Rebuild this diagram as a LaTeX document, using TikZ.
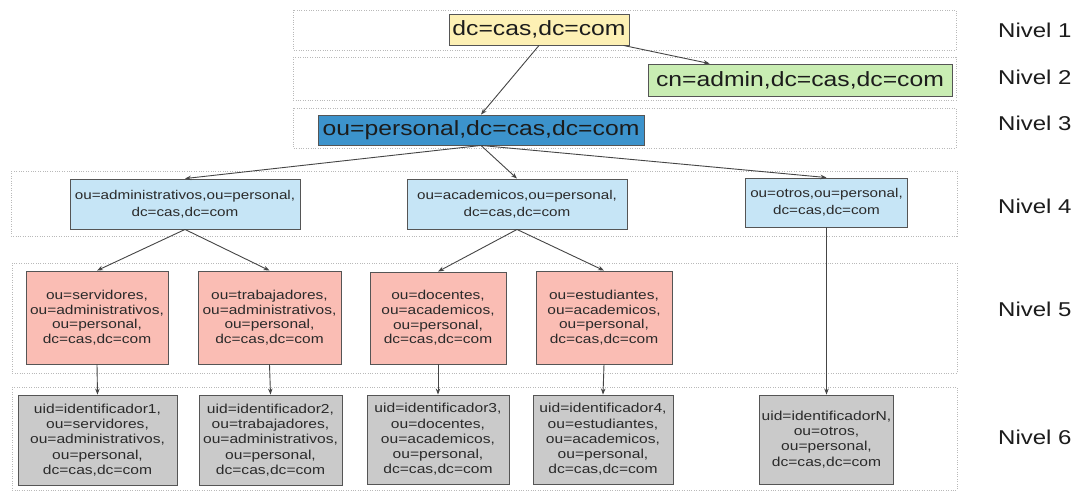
\documentclass[tikz,border=0pt]{standalone}
\usepackage{fontspec}
\setmainfont{Liberation Sans}[FakeStretch=1.2]
\usetikzlibrary{arrows.meta}
\definecolor{yel}{HTML}{FDF0B4}
\definecolor{grn}{HTML}{C9EDB3}
\definecolor{dblue}{HTML}{3C93CC}
\definecolor{lblue}{HTML}{C6E5F6}
\definecolor{salmon}{HTML}{FABDB4}
\definecolor{lgray}{HTML}{CACACA}
\definecolor{boxline}{HTML}{555555}
\definecolor{linecol}{HTML}{454545}
\definecolor{txt}{HTML}{2A2A2A}
\definecolor{txtdark}{HTML}{1C1C1C}
\begin{document}
\begin{tikzpicture}[x=1pt,y=-1pt,
  band/.style={draw=gray!55, line width=0.8pt, dash pattern=on 0.8pt off 1.6pt},
  box/.style={draw=boxline, line width=0.9pt, inner sep=0pt, align=center, text=txt},
  big/.style={box, text=txtdark, font=\fontsize{20.6}{24}\selectfont},
  lvfour/.style={box, fill=lblue, font=\fontsize{12.7}{17}\selectfont},
  lvfive/.style={box, fill=salmon, font=\fontsize{12.9}{14.6}\selectfont},
  lvsix/.style={box, fill=lgray, font=\fontsize{13}{15.2}\selectfont},
  conn/.style={draw=linecol, line width=0.9pt, -{Stealth[length=6pt,width=4.5pt]}},
  lvl/.style={anchor=west, inner sep=0pt, text=txtdark, font=\fontsize{20}{24}\selectfont}
]
\useasboundingbox[fill=white] (0,0) rectangle (1078,491);

% dotted level bands
\draw[band] (293,10) rectangle (956,50);
\draw[band] (293,57) rectangle (956,100);
\draw[band] (293,108) rectangle (956,148);
\draw[band] (11,171) rectangle (957,236);
\draw[band] (12,263) rectangle (957,373);
\draw[band] (12,387) rectangle (957,490);

% level labels
\node[lvl] (n1) at (998,30.5) {Nivel 1};
\node[lvl] (n2) at (998,77) {Nivel 2};
\node[lvl] (n3) at (998,123) {Nivel 3};
\node[lvl] (n4) at (998,206) {Nivel 4};
\node[lvl] (n5) at (998,309) {Nivel 5};
\node[lvl] (n6) at (998,437) {Nivel 6};

% levels 1-3
\node[big, fill=yel, minimum width=180pt, minimum height=31pt] (root) at (539,29.5) {dc=cas,dc=com};
\node[big, fill=grn, minimum width=304pt, minimum height=32pt] (admin) at (800,80) {cn=admin,dc=cas,dc=com};
\node[big, fill=dblue, minimum width=326pt, minimum height=30pt] (personal) at (481,130) {ou=personal,dc=cas,dc=com};

% level 4
\node[lvfour, minimum width=230pt, minimum height=50pt] (adm) at (185,204) {ou=administrativos,ou=personal,\\dc=cas,dc=com};
\node[lvfour, minimum width=220pt, minimum height=50pt] (acad) at (517,204) {ou=academicos,ou=personal,\\dc=cas,dc=com};
\node[lvfour, minimum width=162pt, minimum height=49pt] (otros) at (826.5,202.5) {ou=otros,ou=personal,\\dc=cas,dc=com};

% level 5
\node[lvfive, minimum width=142pt, minimum height=93pt] (serv) at (97,317.5) {ou=servidores,\\ou=administrativos,\\ou=personal,\\dc=cas,dc=com};
\node[lvfive, minimum width=143pt, minimum height=93pt] (trab) at (269.5,317.5) {ou=trabajadores,\\ou=administrativos,\\ou=personal,\\dc=cas,dc=com};
\node[lvfive, minimum width=136pt, minimum height=92pt] (doc) at (438,318) {ou=docentes,\\ou=academicos,\\ou=personal,\\dc=cas,dc=com};
\node[lvfive, minimum width=136pt, minimum height=93pt] (est) at (604,317.5) {ou=estudiantes,\\ou=academicos,\\ou=personal,\\dc=cas,dc=com};

% level 6
\node[lvsix, minimum width=159pt, minimum height=90pt] (uida) at (97.5,440) {uid=identificador1,\\ou=servidores,\\ou=administrativos,\\ou=personal,\\dc=cas,dc=com};
\node[lvsix, minimum width=143pt, minimum height=90pt] (uidb) at (270.5,440) {uid=identificador2,\\ou=trabajadores,\\ou=administrativos,\\ou=personal,\\dc=cas,dc=com};
\node[lvsix, minimum width=142pt, minimum height=89pt] (uidc) at (438,439.5) {uid=identificador3,\\ou=docentes,\\ou=academicos,\\ou=personal,\\dc=cas,dc=com};
\node[lvsix, minimum width=140pt, minimum height=89pt] (uidd) at (603,439.5) {uid=identificador4,\\ou=estudiantes,\\ou=academicos,\\ou=personal,\\dc=cas,dc=com};
\node[lvsix, minimum width=134pt, minimum height=89pt] (uidn) at (826.5,439.5) {uid=identificadorN,\\ou=otros,\\ou=personal,\\dc=cas,dc=com};

% connectors
\draw[conn] (root.south) -- (personal.north);
\draw[conn] ([xshift=-6pt]root.south east) -- ([xshift=62pt]admin.north west);
\draw[conn] (personal.south) -- (adm.north);
\draw[conn] (personal.south) -- (acad.north);
\draw[conn] (personal.south) -- (otros.north);
\draw[conn] (adm.south) -- (serv.north);
\draw[conn] (adm.south) -- (trab.north);
\draw[conn] (acad.south) -- (doc.north);
\draw[conn] (acad.south) -- (est.north);
\draw[conn] (serv.south) -- (uida.north);
\draw[conn] (trab.south) -- (uidb.north);
\draw[conn] (doc.south) -- (uidc.north);
\draw[conn] (est.south) -- (uidd.north);
\draw[conn] (otros.south) -- (uidn.north);
\end{tikzpicture}
\end{document}
